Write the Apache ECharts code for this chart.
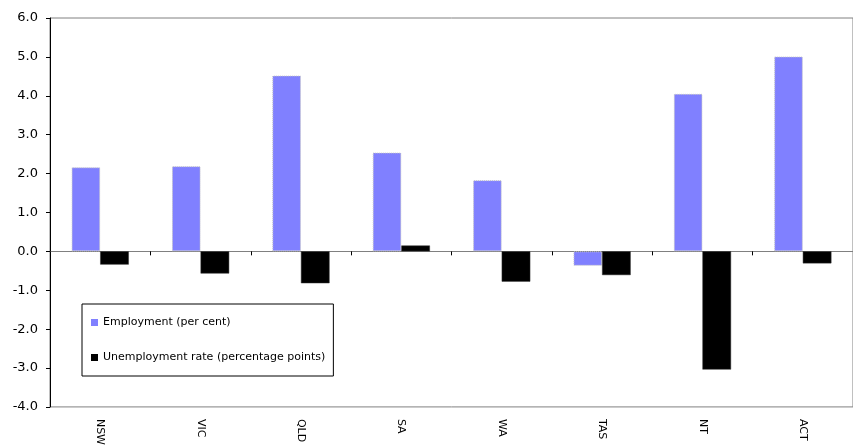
<!DOCTYPE html>
<html>
<head>
<meta charset="utf-8">
<script src="https://cdn.jsdelivr.net/npm/echarts@6/dist/echarts.min.js"></script>
<style>
html,body{margin:0;padding:0;background:#fff;}
#chart{width:853px;height:448px;}
</style>
</head>
<body>
<div id="chart"></div>
<script>
var categories = ['NSW', 'VIC', 'QLD', 'SA', 'WA', 'TAS', 'NT', 'ACT'];
var employment = [2.16, 2.19, 4.52, 2.54, 1.83, -0.37, 4.05, 5.01];
var unemployment = [-0.34, -0.57, -0.82, 0.15, -0.78, -0.61, -3.04, -0.31];
var seriesNames = ['Employment (per cent)', 'Unemployment rate (percentage points)'];

var FONT = 'DejaVu Sans, Liberation Sans, Arial, sans-serif';
var chart = echarts.init(document.getElementById('chart'), null, {renderer: 'canvas'});
chart.setOption({
  animation: false,
  backgroundColor: '#ffffff',
  textStyle: {fontFamily: FONT},
  grid: {
    left: 50, top: 18, right: -5, bottom: 40,
    show: true, borderColor: '#808080', borderWidth: 1, backgroundColor: 'transparent'
  },
  legend: {
    orient: 'vertical',
    left: 82, top: 304,
    padding: [13, 8, 13, 9],
    itemGap: 24,
    itemWidth: 7, itemHeight: 7,
    backgroundColor: '#ffffff',
    borderColor: '#000000', borderWidth: 1,
    textStyle: {fontFamily: FONT, fontSize: 11, color: '#000'},
    data: [
      {name: seriesNames[0], icon: 'rect', itemStyle: {borderWidth: 0}},
      {name: seriesNames[1], icon: 'rect', itemStyle: {borderWidth: 0}}
    ]
  },
  xAxis: [
    {
      type: 'category', data: categories,
      axisLine: {onZero: true, lineStyle: {color: '#808080', width: 1}},
      axisTick: {show: true, inside: false, length: 4, lineStyle: {color: '#000'}},
      axisLabel: {show: false},
      splitLine: {show: false}
    },
    {
      type: 'category', data: categories, position: 'bottom',
      axisLine: {show: false, onZero: false},
      axisTick: {show: false},
      axisLabel: {show: true, rotate: -90, margin: 12, fontSize: 11, color: '#000', fontFamily: FONT, padding: [4, 0, 0, 0]},
      splitLine: {show: false}
    }
  ],
  yAxis: {
    type: 'value', min: -4, max: 6, interval: 1,
    axisLine: {show: true, onZero: false, lineStyle: {color: '#000', width: 1}},
    axisTick: {show: true, length: 4, lineStyle: {color: '#000'}},
    axisLabel: {
      margin: 12, fontSize: 13, color: '#000', fontFamily: FONT,
      formatter: function (v) { return v.toFixed(1); }
    },
    splitLine: {show: false}
  },
  series: [
    {
      name: seriesNames[0], type: 'bar', data: employment,
      barGap: '0%', barCategoryGap: '43%',
      itemStyle: {color: '#8080FF', borderColor: '#c4c4c4', borderWidth: 1, borderType: 'dotted'}
    },
    {
      name: seriesNames[1], type: 'bar', data: unemployment,
      barGap: '0%', barCategoryGap: '43%',
      itemStyle: {color: '#000000', borderColor: '#333', borderWidth: 0.5}
    }
  ]
});
</script>
</body>
</html>
